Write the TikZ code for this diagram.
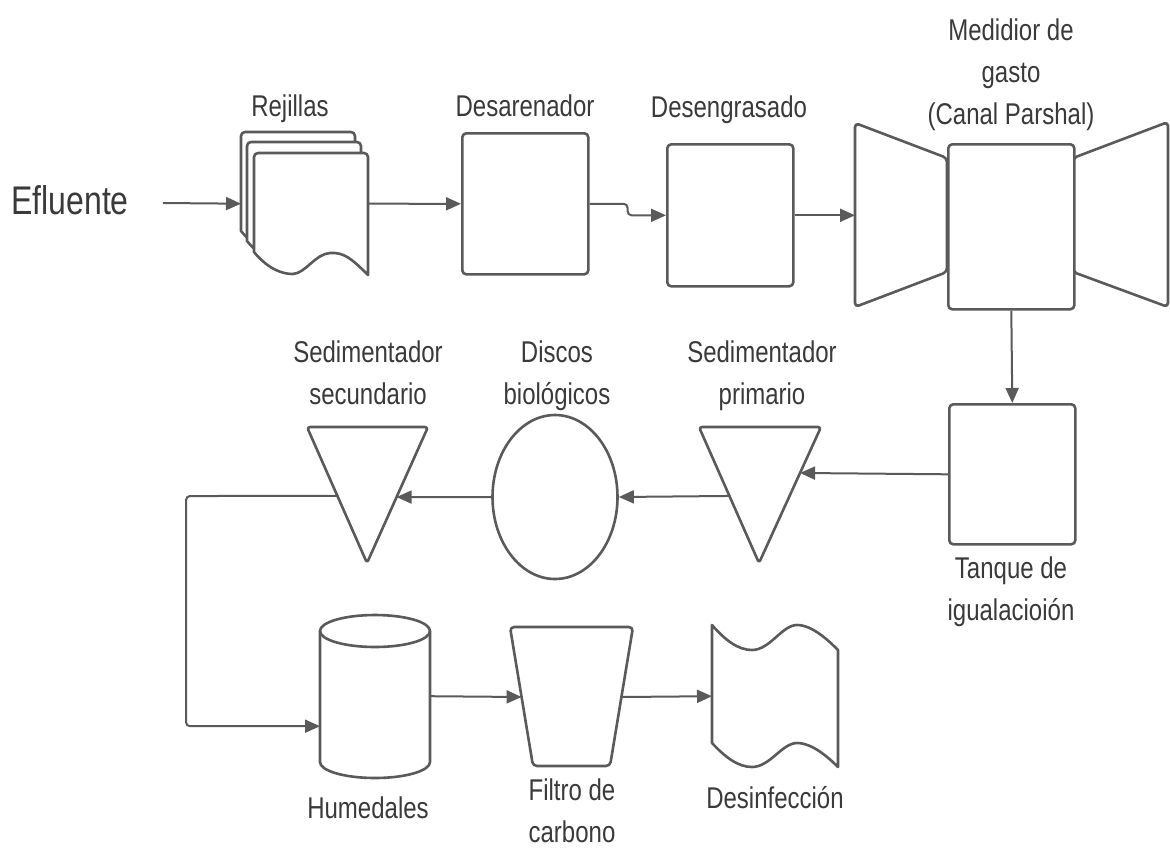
\documentclass[tikz,border=0pt]{standalone}
\usepackage{fontspec}
\setmainfont[FakeStretch=0.8]{Liberation Sans}
\usetikzlibrary{arrows.meta,shapes.geometric,calc}
\definecolor{ln}{HTML}{5A5A5A}
\definecolor{tx}{HTML}{3A3A3A}
\begin{document}
\begin{tikzpicture}[x=1pt,y=-1pt,
  shp/.style={draw=ln,line width=2.6pt,fill=white,line join=round},
  box/.style={shp,rectangle,rounded corners=4pt,inner sep=0pt,anchor=north west},
  ghost/.style={rectangle,inner sep=0pt,anchor=north west},
  conn/.style={draw=ln,line width=2pt,-{Triangle[length=15pt,width=13pt]}},
  lbl/.style={text=tx,inner sep=0pt,align=center,font=\fontsize{30}{42}\selectfont},
  docsheet/.pic={
    \path[shp,sharp corners] (0,99) [rounded corners=4pt] -- (0,0) -- (114,0) [sharp corners] -- (114,122)
      .. controls (98,106) and (90,99) .. (76,100)
      .. controls (61,101) and (52,120) .. (39,121)
      .. controls (22,121) and (8,109) .. (0,99) -- cycle;
  }
]
\useasboundingbox (0,0) rectangle (1170,847);
\fill[white] (0,0) rectangle (1170,847);

% ---------- top row ----------
\node[text=tx,inner sep=0pt,font=\fontsize{40}{48}\selectfont,anchor=base] (efl) at (70,214) {Efluente};
\coordinate (effrom) at (163,203);

\node[ghost,minimum width=127pt,minimum height=143pt] (rej) at (241,132) {};
\pic at (241,132) {docsheet};
\pic at (247,142) {docsheet};
\pic at (254,153) {docsheet};
\node[lbl,anchor=base] (rejl) at (290,116) {Rejillas};

\node[box,minimum width=126pt,minimum height=141pt] (desar) at (461,132) {};
\node[lbl,anchor=base] (desarl) at (525,116) {Desarenador};

\node[box,minimum width=126pt,minimum height=142pt] (deseng) at (666,143) {};
\node[lbl,anchor=base] (desengl) at (729,117) {Desengrasado};

\node[ghost,minimum width=313pt,minimum height=185pt] (par) at (855,122) {};
\path[shp,rounded corners=4pt] (855,123) -- (947,158) -- (947,272) -- (855,307) -- cycle;
\path[shp,rounded corners=4pt] (1073,158) -- (1168,122) -- (1168,307) -- (1073,272) -- cycle;
\node[box,minimum width=126pt,minimum height=165pt] (parbox) at (947,143) {};
\node[lbl,anchor=base] (parl) at (1011,124) {Medidior de\\gasto\\(Canal Parshal)};

% ---------- middle row ----------
\node[box,minimum width=126pt,minimum height=140pt] (tanq) at (948,403) {};
\node[lbl,anchor=base] (tanql) at (1011,620) {Tanque de\\igualacioión};

\coordinate (sptl) at (699,427);
\coordinate (sptr) at (821,427);
\coordinate (spap) at (759,563);
\path[shp,rounded corners=3pt] (sptl) -- (sptr) -- (spap) -- cycle;
\node[lbl,anchor=base] (spl) at (762,404) {Sedimentador\\primario};

\node[shp,ellipse,minimum width=125pt,minimum height=164pt,inner sep=0pt] (disc) at (555,497) {};
\node[lbl,anchor=base] (discl) at (557,404) {Discos\\biológicos};

\coordinate (sstl) at (307,427);
\coordinate (sstr) at (428,427);
\coordinate (ssap) at (367,563);
\path[shp,rounded corners=3pt] (sstl) -- (sstr) -- (ssap) -- cycle;
\node[lbl,anchor=base] (ssl) at (368,404) {Sedimentador\\secundario};

\coordinate (spin) at ($(sptr)!0.338!(spap)$);
\coordinate (spout) at ($(sptl)!0.507!(spap)$);
\coordinate (ssin) at ($(sstr)!0.515!(ssap)$);
\coordinate (ssout) at ($(sstl)!0.507!(ssap)$);

% ---------- bottom row ----------
\node[ghost,minimum width=110pt,minimum height=164pt] (hum) at (320,614) {};
\path[shp] (320,631) -- (320,762) arc[start angle=180,end angle=360,x radius=55pt,y radius=16pt]
  -- (430,631) arc[start angle=0,end angle=180,x radius=55pt,y radius=16pt] -- cycle;
\draw[draw=ln,line width=2.6pt] (320,631) arc[start angle=180,end angle=360,x radius=55pt,y radius=16pt];
\node[lbl,anchor=base] (huml) at (368,818) {Humedales};

\node[ghost,minimum width=123pt,minimum height=139pt] (filt) at (510,627) {};
\path[shp,rounded corners=4pt] (510,627) -- (633,627) -- (610,766) -- (533,766) -- cycle;
\coordinate (filtin) at (521.6,697);
\coordinate (filtout) at (621.4,697);
\node[lbl,anchor=base] (filtl) at (572,842) {Filtro de\\carbono};

\node[ghost,minimum width=126pt,minimum height=142pt] (desinf) at (712,625) {};
\path[shp] (712,625) .. controls (725,640) and (738,650) .. (752,650)
  .. controls (770,650) and (782,625) .. (797,625)
  .. controls (812,625) and (828,640) .. (838,650) -- (838,767)
  .. controls (828,757) and (812,743) .. (797,743)
  .. controls (782,743) and (770,767) .. (752,767)
  .. controls (738,767) and (725,757) .. (712,743) -- cycle;
\node[lbl,anchor=base] (desinfl) at (775,808) {Desinfección};

% ---------- connectors ----------
\draw[conn] (effrom) -- (rej.west);
\draw[conn] (rej.east) -- (desar.west);
\draw[conn,rounded corners=4pt] (desar.east) -- ++(38,0) |- (deseng.west);
\draw[conn] (deseng.east) -- (deseng.east -| par.west);
\draw[conn] (parbox.south) -- (tanq.north);
\draw[conn] (tanq.west) -- (spin);
\draw[conn] (spout) -- (disc.east);
\draw[conn] (disc.west) -- (ssin);
\draw[conn,rounded corners=4pt] (ssout) -- (186,496) |- ([yshift=-30pt]hum.west);
\draw[conn] (hum.east) -- (filtin);
\draw[conn] (filtout) -- (desinf.west);
\end{tikzpicture}
\end{document}
